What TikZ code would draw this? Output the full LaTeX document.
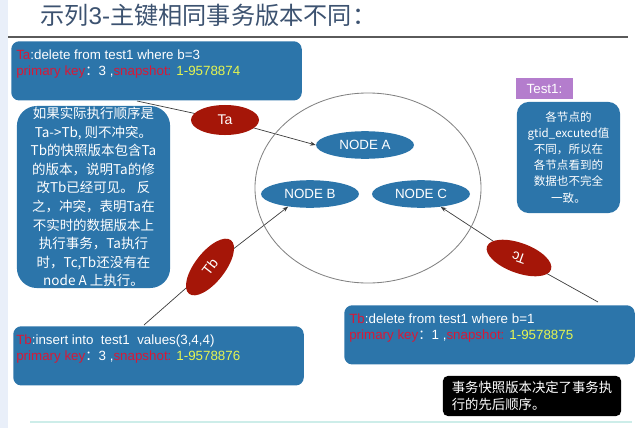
\documentclass[tikz,border=0pt]{standalone}
\usepackage{fontspec}
\setmainfont{Liberation Sans}
\newfontfamily\cjk{Noto Sans CJK SC}
\usetikzlibrary{shapes.geometric,arrows.meta,backgrounds}

\definecolor{boxblue}{RGB}{44,117,170}
\definecolor{txred}{RGB}{165,22,8}
\definecolor{keyred}{RGB}{215,25,55}
\definecolor{snapyellow}{RGB}{230,245,80}
\definecolor{tagpurple}{RGB}{180,125,205}
\definecolor{circlegray}{RGB}{130,130,130}
\definecolor{linegray}{RGB}{60,60,60}
\definecolor{stripblue}{RGB}{233,239,249}
\definecolor{titleblue}{RGB}{60,82,112}
\definecolor{rulegray}{RGB}{90,90,90}
\definecolor{footteal}{RGB}{205,237,233}

\begin{document}
\begin{tikzpicture}[x=0.025cm, y=-0.025cm,
        sqlbox/.style={rectangle, fill=boxblue, rounded corners=0.2cm, minimum width=7.26cm, minimum height=1.48cm, anchor=north west, inner sep=0pt},
        sqltext/.style={anchor=north west, inner sep=0pt, align=left, text=white, font=\fontsize{9.5}{10.7}\selectfont},
        notebox/.style={rectangle, fill=boxblue, text=white, align=center, inner sep=0pt},
        member/.style={ellipse, fill=boxblue, text=white, minimum width=2.45cm, minimum height=0.69cm, inner sep=0pt, font=\fontsize{9.5}{11}\selectfont},
        txn/.style={ellipse, fill=txred, text=white, minimum width=1.7cm, minimum height=0.75cm, inner sep=0pt, font=\fontsize{10}{12}\selectfont},
        link/.style={draw=linegray, line width=0.5pt},
        >={Stealth[length=4pt, width=3pt]}
    ]
        \useasboundingbox (0,0) rectangle (640,428);

        % page frame: left strip, title rule, footer rule
        \fill[stripblue] (0,0) rectangle (8,428);
        \draw[rulegray, line width=0.85pt] (8,37) -- (628,37);
        \draw[footteal, line width=1.4pt] (30,422) -- (632,422);

        % title
        \node[anchor=west, inner sep=0pt, text=titleblue, font=\cjk\fontsize{17.2}{19}\selectfont] (title) at (40,15) {示列{\rmfamily 3-}主键相同事务版本不同：};

        % transaction statements
        \node[sqlbox] (ta_box) at (11,41) {};
        \node[sqltext] (ta_sql) at ([shift={(5,9)}]ta_box.north west) {{\color{keyred}Ta}:delete from test1 where b=3\\{\color{keyred}primary key}{\cjk ：}3 ,{\color{keyred}snapshot:} {\color{snapyellow}1-9578874}};

        \node[sqlbox] (tb_box) at (13,326) {};
        \node[sqltext] (tb_sql) at ([shift={(3,9)}]tb_box.north west) {{\color{keyred}Tb}:insert into\ \ test1\ \ values(3,4,4)\\{\color{keyred}primary key}{\cjk ：}3 ,{\color{keyred}snapshot:} {\color{snapyellow}1-9578876}};

        \node[sqlbox] (tc_box) at (344,305) {};
        \node[sqltext] (tc_sql) at ([shift={(5,9)}]tc_box.north west) {{\color{keyred}Tb}:delete from test1 where b=1\\{\color{keyred}primary key}{\cjk ：}1 ,{\color{keyred}snapshot:} {\color{snapyellow}1-9578875}};

        % notes
        \node[notebox, rounded corners=0.5cm, minimum width=3.83cm, minimum height=4.55cm, font=\cjk\fontsize{9.6}{13.2}\selectfont] (order_note) at (93.5,197) {如果实际执行顺序是\\Ta->Tb, 则不冲突。\\Tb的快照版本包含Ta\\的版本，说明Ta的修\\改Tb已经可见。 反\\之，冲突，表明Ta在\\不实时的数据版本上\\执行事务，Ta执行\\时，Tc,Tb还没有在\\node A 上执行。};

        \node[fill=tagpurple, text=white, minimum width=1.43cm, minimum height=0.53cm, inner sep=0pt, font=\fontsize{9.5}{11}\selectfont] (test1_tag) at (544.5,88.5) {Test1:};
        \node[notebox, rounded corners=0.3cm, minimum width=2.58cm, minimum height=2.78cm, font=\cjk\fontsize{8.2}{11.4}\selectfont] (gtid_note) at (568.5,157.5) {各节点的\\gtid\_excuted值\\不同，所以在\\各节点看到的\\数据也不完全\\一致。};

        \node[fill=black, rounded corners=0.12cm, minimum width=4.45cm, minimum height=1cm, text=white, align=left, inner sep=0pt, font=\cjk\fontsize{9.5}{12}\selectfont] (order_black) at (532,396) {事务快照版本决定了事务执\\行的先后顺序。};

        % cluster and its members
        \node[draw=circlegray, ellipse, line width=0.6pt, minimum width=5.65cm, minimum height=4.75cm, inner sep=0pt] (cluster) at (368,188) {};
        \node[member] (node_a) at (365,145) {NODE A};
        \node[member] (node_b) at (310,194) {NODE B};
        \node[member] (node_c) at (421,194) {NODE C};

        % transactions on their way
        \node[txn] (ta) at (225,120) {Ta};
        \node[txn, rotate=52] (tb) at (210,267) {Tb};
        \node[txn, rotate=160] (tc) at (519,258) {Tc};

        \coordinate (ta_from) at (137,101);
        \coordinate (tb_from) at (144,325);
        \coordinate (tc_from) at (598,302);
        \begin{scope}[on background layer]
            \draw[link, ->] (ta_from) -- (ta.center) -- (node_a.west);
            \draw[link, ->] (tb_from) -- (tb.center) -- (node_b.210);
            \draw[link, ->] (tc_from) -- (tc.center) -- (node_c);
        \end{scope}

    \end{tikzpicture}
\end{document}
